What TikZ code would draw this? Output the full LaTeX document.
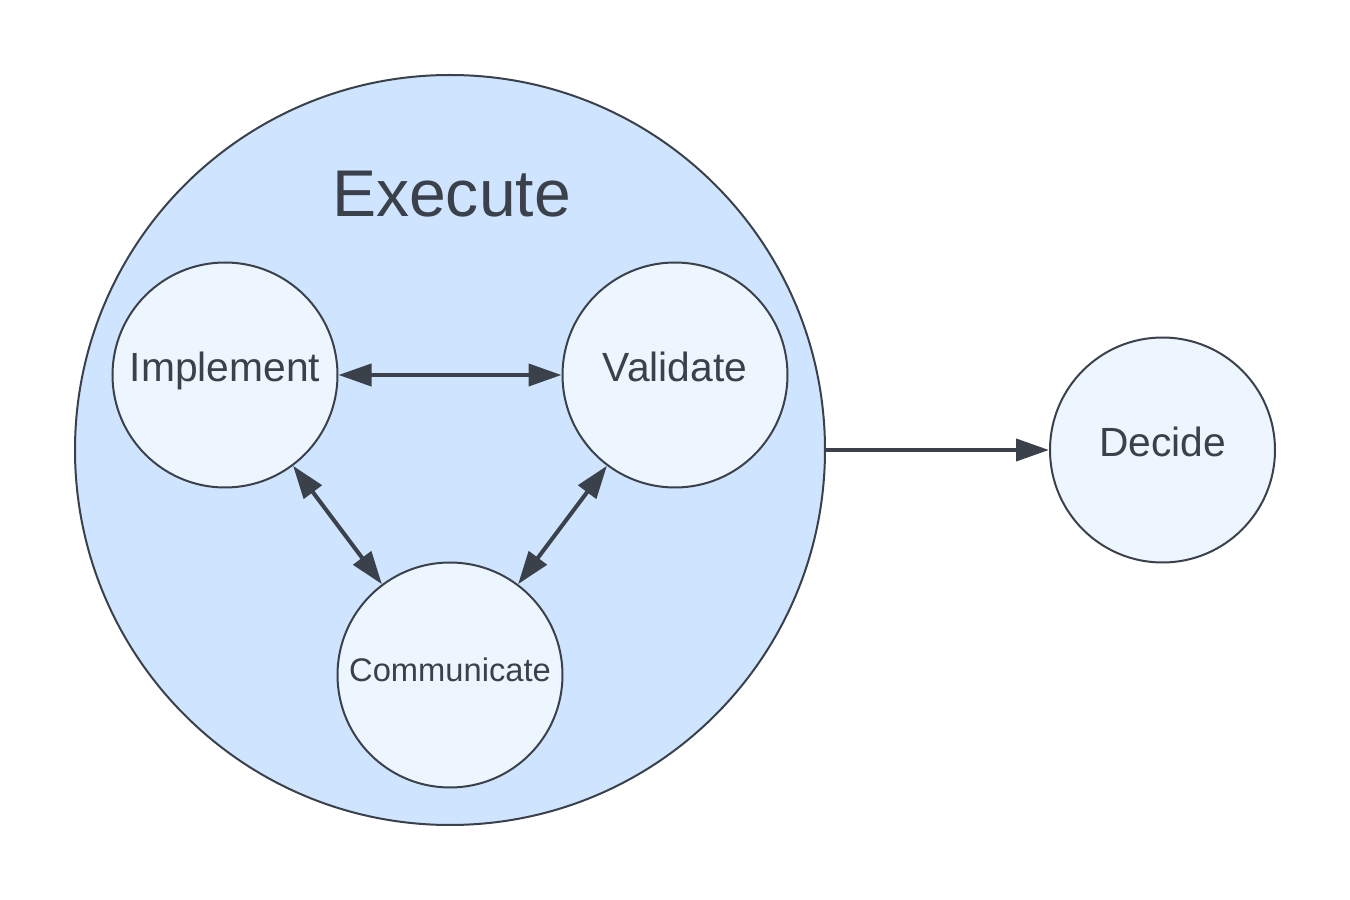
\documentclass[tikz,border=0pt]{standalone}
\usepackage{fontspec}
\setmainfont{Liberation Sans}
\usetikzlibrary{arrows.meta}
\definecolor{outline}{HTML}{3A414A}
\definecolor{outerfill}{HTML}{CFE4FF}
\definecolor{innerfill}{HTML}{EDF5FF}

\begin{document}
\begin{tikzpicture}[
    phase/.style={circle, draw=outline, line width=0.57pt, fill=innerfill,
        minimum size=2.25cm, inner sep=0pt, text=outline,
        text height=0.75em, text depth=0.39em,
        font=\fontsize{11.6}{13}\selectfont},
    head/.tip={Triangle[length=3.3mm, width=2.2mm]},
    link/.style={draw=outline, line width=1.14pt},
]
    \useasboundingbox (0,0) rectangle (13.5,9);

    % outer stage
    \node[circle, draw=outline, line width=0.57pt, fill=outerfill,
        minimum size=7.5cm, inner sep=0pt] (execute) at (4.5,4.5) {};
    \node[anchor=base, text=outline, font=\fontsize{18.8}{22}\selectfont]
        (title) at (4.515,6.83) {Execute};

    % inner steps
    \node[phase] (implement) at (2.25,5.25) {Implement};
    \node[phase] (validate) at (6.75,5.25) {Validate};
    \node[phase, font=\fontsize{9.3}{11}\selectfont] (communicate) at (4.5,2.25) {Communicate};
    \node[phase] (decide) at (11.625,4.5) {Decide};

    \draw[link, head-head] (implement) -- (validate);
    \draw[link, head-head] (implement) -- (communicate);
    \draw[link, head-head] (validate) -- (communicate);
    \draw[link, -head] (execute) -- (decide);
\end{tikzpicture}
\end{document}
